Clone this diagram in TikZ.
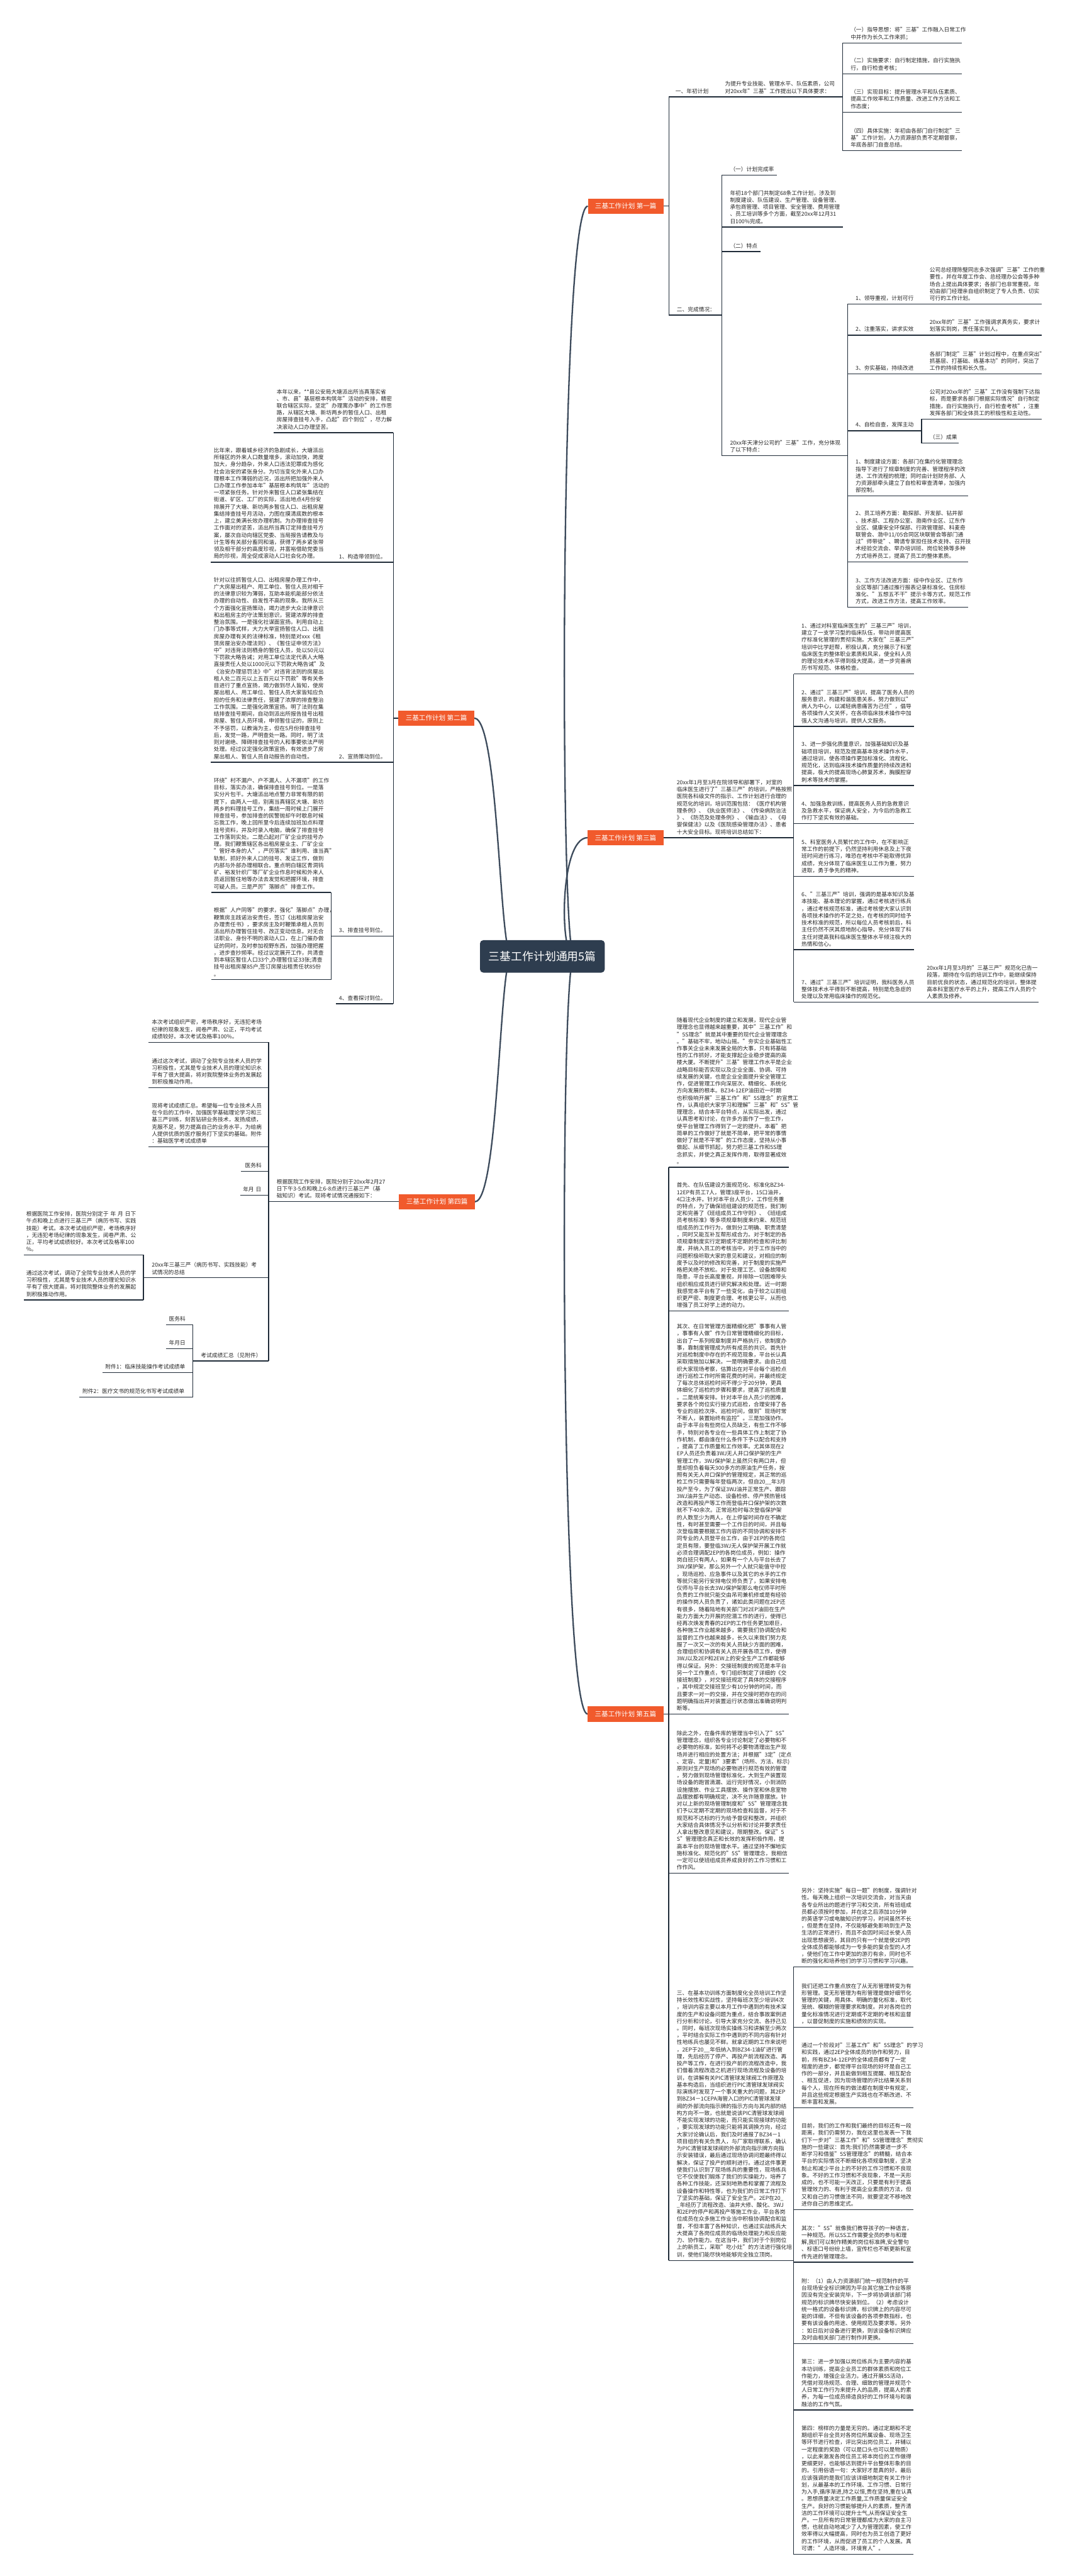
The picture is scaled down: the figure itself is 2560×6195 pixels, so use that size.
\documentclass[tikz,border=0pt]{standalone}
\usepackage{fontspec}
\setmainfont{Noto Sans CJK SC}
\usepackage{tikz}
\usetikzlibrary{backgrounds}
\definecolor{rootnavy}{HTML}{2E3D4F}
\definecolor{branchred}{HTML}{F15A2C}
\definecolor{linedark}{HTML}{1F2B38}
\definecolor{trunkgray}{HTML}{3D4B5C}
\definecolor{textdark}{HTML}{262626}
\hyphenpenalty=10000
\exhyphenpenalty=10000

\begin{document}
\begin{tikzpicture}[x=1pt, y=-1pt,
  topic/.style={fill=rootnavy, text=white, rounded corners=8pt, minimum width=300pt, minimum height=78pt, inner sep=0pt, font=\fontsize{27}{30}\selectfont},
  branch/.style={fill=branchred, text=white, minimum width=182pt, minimum height=37pt, inner sep=0pt, font=\fontsize{16}{19}\selectfont},
  leaf/.style={anchor=south west, align=left, text width=300pt, inner xsep=0pt, inner ysep=7.5pt, text=textdark, font=\fontsize{13.2}{17}\selectfont},
  link/.style={draw=linedark, line width=2pt},
  trunk/.style={draw=trunkgray, line width=3.5pt},
]
\useasboundingbox (0,0) rectangle (2560,6195);

% Root and the five articles
\node[topic] (topic) at (1304,2300) {三基工作计划通用5篇};
\node[branch] (art1) at (1504.5,495.7) {三基工作计划 第一篇};
\node[branch] (art2) at (1049,1727) {三基工作计划 第二篇};
\node[branch] (art3) at (1504,2014.5) {三基工作计划 第三篇};
\node[branch] (art4) at (1050.5,2890) {三基工作计划 第四篇};
\node[branch] (art5) at (1504,4122) {三基工作计划 第五篇};

\begin{scope}[on background layer]
\fill[white] (0,0) rectangle (2560,6195);
\coordinate (rR) at ([xshift=41pt]topic.center);
\coordinate (rL) at ([xshift=-104pt]topic.center);
\draw[trunk] ([xshift=76pt]topic.center) .. controls (rR) and (rR |- art1.west) .. (art1.west);
\draw[trunk] ([xshift=76pt]topic.center) .. controls (rR) and (rR |- art3.west) .. (art3.west);
\draw[trunk] ([xshift=76pt]topic.center) .. controls (rR) and (rR |- art5.west) .. (art5.west);
\draw[trunk] ([xshift=-74pt]topic.center) .. controls (rL) and (rL |- art2.east) .. (art2.east);
\draw[trunk] ([xshift=-74pt]topic.center) .. controls (rL) and (rL |- art4.east) .. (art4.east);
\end{scope}

% First article
\node[leaf] (a1plan) at (1624,232.8) {一、年初计划};
\draw[link] ([xshift=-16pt]a1plan.south west) -- ++(116,0);
\node[leaf] (a1req) at (1743,232.8) {为提升专业技能、管理水平、队伍素质，公司\\
对20xx年"三基"工作提出以下具体要求：};
\draw[link] ([xshift=-19pt]a1req.south west) -- ++(301.6,0);
\node[leaf] (a1g1) at (2045,103.6) {（一）指导思想：将"三基"工作融入日常工作\\
中并作为长久工作来抓；};
\node[leaf] (a1g2) at (2045,178) {（二）实施要求：自行制定措施，自行实施执\\
行，自行检查考核；};
\node[leaf] (a1g3) at (2045,270) {（三）实现目标：提升管理水平和队伍素质、\\
提高工作效率和工作质量、改进工作方法和工\\
作态度；};
\node[leaf] (a1g4) at (2045,362.5) {（四）具体实施：年初由各部门自行制定"三\\
基"工作计划，人力资源部负责不定期督察，\\
年底各部门自查总结。};
\draw[link] ([xshift=-19.4pt]a1g1.south west) -- ++(287,0);
\draw[link] ([xshift=-19.4pt]a1g2.south west) -- ++(287,0);
\draw[link] ([xshift=-19.4pt]a1g3.south west) -- ++(287,0);
\draw[link] ([xshift=-19.4pt]a1g4.south west) -- ++(287,0);
\draw[link] ([xshift=-19.4pt]a1g1.south west) -- ([xshift=-19.4pt]a1g4.south west);

\node[leaf] (a1done) at (1627,757.6) {二、完成情况：};
\draw[link] ([xshift=-19pt]a1done.south west) -- ++(128,0);
\draw[link] ([xshift=-16pt]a1plan.south west) -- ([xshift=-19pt]a1done.south west);
\draw[link] (art1.east) -- ++(12.5,0);

\node[leaf] (a1rate) at (1755,420.7) {（一）计划完成率};
\draw[link] ([xshift=-19pt]a1rate.south west) -- ++(132,0);
\node[leaf] (a1ratet) at (1755,546) {年初18个部门共制定68条工作计划，涉及到\\
制度建设、队伍建设、生产管理、设备管理、\\
承包商管理、项目管理、安全管理、费用管理\\
、员工培训等多个方面，截至20xx年12月31\\
日100\%完成。};
\draw[link] ([xshift=-19pt]a1ratet.south west) -- ++(291,0);
\node[leaf] (a1feat) at (1755,605) {（二）特点};
\draw[link] ([xshift=-19pt]a1feat.south west) -- ++(93,0);
\node[leaf] (a1tj) at (1755,1096) {20xx年天津分公司的"三基"工作，充分体现\\
了以下特点：};
\draw[link] ([xshift=-19pt]a1tj.south west) -- ++(301.5,0);
\draw[link] ([xshift=-19pt]a1rate.south west) -- ([xshift=-19pt]a1tj.south west);

\node[leaf] (a1f1) at (2057,731) {1、领导重视，计划可行};
\draw[link] ([xshift=-19.5pt]a1f1.south west) -- ++(178.5,0);
\node[leaf] (a1f1t) at (2235,731) {公司总经理陈璧同志多次强调"三基"工作的重\\
要性，并在年度工作会、总经理办公会等多种\\
场合上提出具体要求；各部门也非常重视，年\\
初由部门经理亲自组织制定了专人负责、切实\\
可行的工作计划。};
\draw[link] ([xshift=-19pt]a1f1t.south west) -- ++(288,0);
\node[leaf] (a1f2) at (2057,806) {2、注重落实，讲求实效};
\draw[link] ([xshift=-19.5pt]a1f2.south west) -- ++(178.5,0);
\node[leaf] (a1f2t) at (2235,806) {20xx年的"三基"工作强调求真务实，要求计\\
划落实到岗，责任落实到人。};
\draw[link] ([xshift=-19pt]a1f2t.south west) -- ++(288,0);
\node[leaf] (a1f3) at (2057,899) {3、夯实基础，持续改进};
\draw[link] ([xshift=-19.5pt]a1f3.south west) -- ++(178.5,0);
\node[leaf] (a1f3t) at (2235,899) {各部门制定"三基"计划过程中，在重点突出"\\
抓基层、打基础、练基本功"的同时，突出了\\
工作的持续性和长久性。};
\draw[link] ([xshift=-19pt]a1f3t.south west) -- ++(288,0);
\node[leaf] (a1f4) at (2057,1036) {4、自检自查，发挥主动};
\draw[link] ([xshift=-19.5pt]a1f4.south west) -- ++(178.1,0);
\node[leaf] (a1f4t) at (2235,1007.6) {公司对20xx年的"三基"工作没有强制下达指\\
标，而是要求各部门根据实际情况"自行制定\\
措施，自行实施执行，自行检查考核"，注重\\
发挥各部门和全体员工的积极性和主动性。};
\draw[link] ([xshift=-19.4pt]a1f4t.south west) -- ++(288.4,0);
\node[leaf] (a1res) at (2235,1066) {（三）成果};
\draw[link] ([xshift=-19.4pt]a1res.south west) -- ++(89.4,0);
\draw[link] ([xshift=-19.4pt]a1f4t.south west) -- ([xshift=-19.4pt]a1res.south west);
\node[leaf] (a1r1) at (2057,1192.7) {1、制度建设方面：各部门在集约化管理理念\\
指导下进行了规章制度的完善、管理程序的改\\
进、工作流程的梳理；同时由计划财务部、人\\
力资源部牵头建立了自检和审查清单，加强内\\
部控制。};
\node[leaf] (a1r2) at (2057,1351) {2、员工培养方面：勘探部、开发部、钻井部\\
、技术部、工程办公室、渤南作业区、辽东作\\
业区、健康安全环保部、行政管理部、科麦奇\\
联管会、渤中11/05合同区块联管会等部门通\\
过"师带徒"、聘请专家担任技术支持、召开技\\
术经验交流会、举办培训班、岗位轮换等多种\\
方式培养员工，提高了员工的整体素质。};
\node[leaf] (a1r3) at (2057,1460.7) {3、工作方法改进方面：绥中作业区、辽东作\\
业区等部门通过推行报表记录标准化、住房标\\
准化、"五想五不干"提示卡等方式，规范工作\\
方式，改进工作方法，提高工作效率。};
\draw[link] ([xshift=-19.5pt]a1r1.south west) -- ++(289.5,0);
\draw[link] ([xshift=-19.5pt]a1r2.south west) -- ++(289.5,0);
\draw[link] ([xshift=-19.5pt]a1r3.south west) -- ++(289.5,0);
\draw[link] ([xshift=-19.5pt]a1f1.south west) -- ([xshift=-19.5pt]a1r3.south west);

% Second article
\node[leaf] (a2top) at (665,1040.6) {本年以来，**县公安局大塘派出所当真落实省\\
、市、县"基层根本构筑年"活动的安排，精密\\
联合辖区实际，坚定"办理寓办事中"的工作思\\
路，从辖区大塘、新坊两乡的暂住人口、出租\\
房屋排查挂号入手，凸起"四个到位"，尽力解\\
决滚动人口办理坚苦。};
\draw[link] ([xshift=-7pt]a2top.south west) -- ++(288,0);
\node[leaf] (a2l1) at (815,1352) {1、构造带领到位。};
\draw[link] ([xshift=-7pt]a2l1.south west) -- ++(138,0);
\node[leaf] (a2l1t) at (514,1352) {比年来，跟着城乡经济的急剧成长，大塘派出\\
所辖区的外来人口数量增多，滚动加快，跨度\\
加大，身分趋杂，外来人口违法犯罪成为感化\\
社会治安的紧张身分。为切当变化外来人口办\\
理根本工作薄弱的近况，派出所把加强外来人\\
口办理工作参加本年"基层根本构筑年"活动的\\
一项紧张任务。针对外来暂住人口紧张集结在\\
街道、矿区、工厂的实际，派出地点4月份安\\
排展开了大塘、新坊两乡暂住人口、出租房屋\\
集结排查挂号月活动，力图在摸清底数的根本\\
上，建立美满长效办理机制。为办理排查挂号\\
工作面对的坚苦，派出所当真订定排查挂号方\\
案，屡次自动向辖区党委、当局报告请教及与\\
计生等有关部分畜同和谐，获得了两乡紧张带\\
领及相干部分的高度珍视，并富裕借助党委当\\
局的珍视，周全促成滚动人口社会化办理。};
\draw[link] ([xshift=-7pt]a2l1t.south west) -- ++(301,0);
\node[leaf] (a2l2) at (815,1833) {2、宣扬策动到位。};
\draw[link] ([xshift=-7pt]a2l2.south west) -- ++(138,0);
\node[leaf] (a2l2t) at (514,1833) {针对以往抓暂住人口、出租房屋办理工作中，\\
广大房屋出租户、用工单位、暂住人员对相干\\
的法律意识较为薄弱，互助本能机能部分依法\\
办理的自动性、自发性不高的现象。我所从三\\
个方面强化宣扬策动，竭力进步大众法律意识\\
和出租房主的守法策划意识，营建浓厚的排查\\
整治氛围。一是强化社谋面宣扬。利用自动上\\
门办事等式样，大力大举宣扬暂住人口、出租\\
房屋办理有关的法律标准，特别是对xxx《租\\
赁房屋治安办理法则》、《暂住证申领方法》\\
中"对违背法则栖身的暂住人员，处以50元以\\
下罚款大略告诫；对用工单位法定代表人大略\\
直接责任人处以1000元以下罚款大略告诫"及\\
《治安办理惩罚法》中"对违背法则的房屋出\\
租人处二百元以上五百元以下罚款"等有关条\\
目进行了重点宣扬，竭力做到尽人皆知，使房\\
屋出租人、用工单位、暂住人员大家皆知应负\\
担的任务和法律责任，营建了浓厚的排查整治\\
工作氛围。二是强化政策宣扬。明了法则在集\\
结排查挂号期间，自动到派出所报告挂号出租\\
房屋、暂住人员环境，申领暂住证的，原则上\\
不予惩罚，以教诲为主，但在5月份排查挂号\\
后，发觉一路，严明查处一路。同时，明了法\\
则对谢绝、障碍排查挂号的人和事要依法严明\\
处理。经过议定强化政策宣扬，有效进步了房\\
屋出租人、暂住人员自动报告的自动性。};
\draw[link] ([xshift=-7pt]a2l2t.south west) -- ++(301,0);
\node[leaf] (a2l3) at (815,2251) {3、排查挂号到位。};
\draw[link] ([xshift=-19pt]a2l3.south west) -- ++(150,0);
\node[leaf] (a2l3a) at (514,2146) {环绕"村不漏户、户不漏人、人不漏项"的工作\\
目标，落实办法，确保排查挂号到位。一是落\\
实分片包干。大塘派出地点警力非常有限的前\\
提下，由两人一组，别离当真辖区大塘、新坊\\
两乡的料理挂号工作，集结一周时候上门展开\\
排查挂号，参加排查的民警抛却午时歇息时候\\
忘我工作，晚上回所里今后连续加班加点料理\\
挂号资料，并及时录入电脑，确保了排查挂号\\
工作落到实处。二是凸起对厂矿企业的挂号办\\
理。我们鞭策辖区各出租房屋业主、厂矿企业\\
"管好本身的人"，严厉落实"谁利用、谁当真"\\
轨制，抓好外来人口的挂号、发证工作，做到\\
内部与外部办理相联合。重点明白辖区青洞钨\\
矿、裕发针织厂等厂矿企业作息时候和外来人\\
员返回暂住地等办法去发觉和把握环境，排查\\
可疑人员。三是严厉"落脚点"排查工作。};
\draw[link] ([xshift=-6.5pt]a2l3a.south west) -- ++(288.5,0);
\node[leaf] (a2l3b) at (514,2356) {根据"人户同等"的要求，强化"落脚点"办理，\\
鞭策房主践诺治安责任，签订《出租房屋治安\\
办理责任书》，要求房主及时鞭策承租人员到\\
派出所办理暂住挂号、改正变动信息。对无合\\
法职业、身份不明的滚动人口，在上门催办做\\
证的同时，及时参加视野东西，加强办理把握\\
，进步查抄频率。经过议定展开工作，共清查\\
到本辖区暂住人口33个,办理暂住证33张;清查\\
挂号出租房屋85户,签订房屋出租责任状85份\\
。};
\draw[link] ([xshift=-6.5pt]a2l3b.south west) -- ++(288.5,0);
\draw[link] ([xshift=282pt]a2l3a.south west) -- ([xshift=282pt]a2l3b.south west);
\node[leaf] (a2l4) at (815,2414) {4、查看探讨到位。};
\draw[link] ([xshift=-7pt]a2l4.south west) -- ++(138,0);
\draw[link] ([xshift=281pt]a2top.south west) -- ([xshift=131pt]a2l4.south west);
\draw[link] (art2.west) -- ++(-12,0);

% Third article
\node[leaf] (a3top) at (1627,2014.5) {20xx年1月至3月在院领导和部署下，对室的\\
临床医生进行了"三基三严"的培训，严格按照\\
医院各科级文件的指示、工作计划进行合理的\\
规范化的培训，培训范围包括：《医疗机构管\\
理条例》、《执业医师法》、《传染病防治法\\
》、《防范及处理条例》、《输血法》、《母\\
婴保健法》以及《医院感染管理办法》、患者\\
十大安全目标。现将培训总结如下：};
\draw[link] ([xshift=-32pt]a3top.south west) -- ++(313,0);
\node[leaf] (a3i1) at (1927,1620.7) {1、通过对科室临床医生的"三基三严"培训，\\
建立了一支学习型的临床队伍，带动并提高医\\
疗标准化管理的贯彻实施。大家在"三基三严"\\
培训中比学赶帮，积极认真，充分展示了科室\\
临床医生的整体职业素质和风采，使全科人员\\
的理论技术水平得到极大提高，进一步完善病\\
历书写规范、体格检查。};
\node[leaf] (a3i2) at (1927,1747) {2、通过"三基三严"培训，提高了医务人员的\\
服务意识，构建和谐医患关系，努力做到以"\\
病人为中心，以减轻病患痛苦为己任"，倡导\\
各项操作人文关怀，在各项临床技术操作中加\\
强人文沟通与培训，提供人文服务。};
\node[leaf] (a3i3) at (1927,1889) {3、进一步强化质量意识，加强基础知识及基\\
础项目培训，规范及提高基本技术操作水平，\\
通过培训，使各项操作更加标准化、流程化、\\
规范化，达到临床技术操作质量的持续改进和\\
提高，极大的提高现场心肺复苏术，胸膜腔穿\\
刺术等技术的掌握。};
\node[leaf] (a3i4) at (1927,1981) {4、加强急救训练，提高医务人员的急救意识\\
及急救水平，保证病人安全，为今后的急救工\\
作打下坚实有效的基础。};
\node[leaf] (a3i5) at (1927,2107.4) {5、科室医务人员繁忙的工作中，在不影响正\\
常工作的前提下，仍然坚持利用休息及上下夜\\
班时间进行练习，唯恐在考核中不能取得优异\\
成绩，充分体现了临床医生以工作为重，努力\\
进取，勇于争先的精神。};
\node[leaf] (a3i6) at (1927,2284) {6、"三基三严"培训，强调的是基本知识及基\\
本技能、基本理论的掌握，通过考核进行练兵\\
，通过考核规范标准，通过考核使大家认识到\\
各项技术操作的不足之处，在考核的同时给予\\
技术标准的规范，所以每位人员考核前后，科\\
主任仍然不厌其烦地耐心指导。充分体现了科\\
主任对提高我科临床医生整体水平倾注极大的\\
热情和信心。};
\node[leaf] (a3i7) at (1927,2410) {7、通过"三基三严"培训证明，我科医务人员\\
整体技术水平得到不断提高，特别是危急症的\\
处理以及常用临床操作的规范化。};
\node[leaf] (a3i7t) at (2228,2410) {20xx年1月至3月的"三基三严"规范化已告一\\
段落，期待在今后的培训工作中，能继续保持\\
目前优良的状态，通过规范化的培训，整体提\\
高本科室医疗水平的上升，提高工作人员的个\\
人素质及修养。};
\draw[link] ([xshift=-19pt]a3i1.south west) -- ++(289,0);
\draw[link] ([xshift=-19pt]a3i2.south west) -- ++(289,0);
\draw[link] ([xshift=-19pt]a3i3.south west) -- ++(289,0);
\draw[link] ([xshift=-19pt]a3i4.south west) -- ++(289,0);
\draw[link] ([xshift=-19pt]a3i5.south west) -- ++(289,0);
\draw[link] ([xshift=-19pt]a3i6.south west) -- ++(289,0);
\draw[link] ([xshift=-19pt]a3i7.south west) -- ++(302,0);
\draw[link] ([xshift=-18pt]a3i7t.south west) -- ++(287,0);
\draw[link] ([xshift=-19pt]a3i1.south west) -- ([xshift=-19pt]a3i7.south west);

% Fourth article
\node[leaf] (a4top) at (665,2890) {根据医院工作安排，医院分别于20xx年2月27\\
日下午3-5点和晚上6-8点进行三基三严（基\\
础知识）考试。现将考试情况通报如下：};
\draw[link] ([xshift=-19pt]a4top.south west) -- ++(313.5,0);
\node[leaf] (a4s1) at (365,2506.5) {本次考试组织严密，考场秩序好，无违犯考场\\
纪律的现象发生，阅卷严肃、公正，平均考试\\
成绩较好。本次考试及格率100\%。};
\node[leaf] (a4s2) at (365,2616) {通过这次考试，调动了全院专业技术人员的学\\
习积极性，尤其是专业技术人员的理论知识水\\
平有了很大提高，将对我院整体业务的发展起\\
到积极推动作用。};
\node[leaf] (a4s3) at (365,2758) {现将考试成绩汇总。希望每一位专业技术人员\\
在今后的工作中，加强医学基础理论学习和三\\
基三严训练，刻苦钻研业务技术，发扬成绩，\\
克服不足，努力提高自己的业务水平，为给病\\
人提供优质的医疗服务打下坚实的基础。附件\\
：基础医学考试成绩单};
\draw[link] ([xshift=-7.5pt]a4s1.south west) -- ++(288.5,0);
\draw[link] ([xshift=-7.5pt]a4s2.south west) -- ++(288.5,0);
\draw[link] ([xshift=-7.5pt]a4s3.south west) -- ++(288.5,0);
\node[leaf] (a4dept) at (589,2817) {医务科};
\draw[link] ([xshift=-9pt]a4dept.south west) -- ++(66,0);
\node[leaf] (a4date) at (584,2874.5) {年月~日};
\draw[link] ([xshift=-7pt]a4date.south west) -- ++(69,0);
\node[leaf] (a4sum) at (365,3073) {20xx年三基三严（病历书写、实践技能）考\\
试情况的总结};
\draw[link] ([xshift=-20pt]a4sum.south west) -- ++(301,0);
\node[leaf] (a4sum1) at (63,3018) {根据医院工作安排，医院分别定于~年~月~日下\\
午点和晚上点进行三基三严（病历书写、实践\\
技能）考试。本次考试组织严密，考场秩序好\\
，无违犯考场纪律的现象发生，阅卷严肃、公\\
正，平均考试成绩较好。本次考试及格率100\\
\%。};
\node[leaf] (a4sum2) at (63,3126) {通过这次考试，调动了全院专业技术人员的学\\
习积极性，尤其是专业技术人员的理论知识水\\
平有了很大提高，将对我院整体业务的发展起\\
到积极推动作用。};
\draw[link] ([xshift=-6pt]a4sum1.south west) -- ++(288,0);
\draw[link] ([xshift=-6pt]a4sum2.south west) -- ++(288,0);
\draw[link] ([xshift=282pt]a4sum1.south west) -- ([xshift=282pt]a4sum2.south west);
\node[leaf] (a4tab) at (483,3273) {考试成绩汇总（见附件）};
\draw[link] ([xshift=-19pt]a4tab.south west) -- ++(182,0);
\node[leaf] (a4dept2) at (406,3185.6) {医务科};
\node[leaf] (a4date2) at (406,3243) {年月日};
\node[leaf] (a4att1) at (253,3301) {附件1：临床技能操作考试成绩单};
\node[leaf] (a4att2) at (198,3360) {附件2：医疗文书的规范化书写考试成绩单};
\draw[link] ([xshift=-7.3pt]a4dept2.south west) -- ++(65.3,0);
\draw[link] ([xshift=-7.3pt]a4date2.south west) -- ++(65.3,0);
\draw[link] ([xshift=-7pt]a4att1.south west) -- ++(218,0);
\draw[link] ([xshift=-7pt]a4att2.south west) -- ++(273,0);
\draw[link] ([xshift=58pt]a4dept2.south west) -- ([xshift=266pt]a4att2.south west);
\draw[link] ([xshift=281pt]a4s1.south west) -- ([xshift=163pt]a4tab.south west);

% Fifth article
\node[leaf] (a5p0) at (1627,2807) {随着现代企业制度的建立和发展，现代企业管\\
理理念也显得越来越重要，其中"三基工作"和\\
"5S理念"就是其中重要的现代企业管理理念\\
。"基础不牢，地动山摇。"夯实企业基础性工\\
作事关企业未来发展全局的大事，只有将基础\\
性的工作抓好，才能支撑起企业稳步提高的高\\
楼大厦。不断提升"三基"管理工作水平是企业\\
战略目标能否实现以及企业全面、协调、可持\\
续发展的关键，也是企业全面提升安全管理工\\
作，促进管理工作向深层次、精细化、系统化\\
方向发展的根本。BZ34-12EP油田近一时期\\
也积极响开展"三基工作"和"5S理念"的宣贯工\\
作，认真组织大家学习和理解"三基"和"5S"管\\
理理念，结合本平台特点，从实际出发，通过\\
认真思考和讨论，在许多方面作了一些工作，\\
使平台管理工作得到了一定的提升。本着"把\\
简单的工作做好了就是不简单，把平常的事情\\
做好了就是不平常"的工作态度，坚持从小事\\
做起、从细节抓起，努力把三基工作和5S理\\
念抓实，并使之真正发挥作用，取得显著成效\\
。};
\node[leaf] (a5p1) at (1627,3153) {首先、在队伍建设方面规范化、标准化BZ34-\\
12EP有员工7人，管理3座平台，15口油井，\\
4口注水井。针对本平台人员少，工作任务重\\
的特点，为了确保班组建设的规范性，我们制\\
定和完善了《班组成员工作守则》、《班组成\\
员考核标准》等多项规章制度来约束、规范班\\
组成员的工作行为，做到分工明确、职责清楚\\
，同时又能互补互帮形成合力。对于制定的各\\
项规章制度实行定期或不定期的检查和评比制\\
度，并纳入员工的考核当中，对于工作当中的\\
问题积极听取大家的意见和建议，对相应的制\\
度予以及时的修改和完善，对于制度的实施严\\
格把关绝不放松。对于处理工艺、设备故障和\\
隐患，平台长高度重视，并排除一切困难带头\\
组织相应成员进行研究解决和处理。近一时期\\
我感觉本平台有了一些变化，由于较之以前组\\
织更严密、制度更合理、考核更公平，从而也\\
增强了员工好学上进的动力。};
\node[leaf] (a5p2) at (1627,4122) {其次、在日常管理方面精细化把"事事有人管\\
，事事有人做"作为日常管理精细化的目标，\\
出台了一系列规章制度并严格执行，依制度办\\
事，靠制度管理成为所有成员的共识。首先针\\
对巡检制度中存在的不规范现象，平台长认真\\
采取措施加以解决。一是明确要求。由自己组\\
织大家现场考察，估算出在对平台每个巡检点\\
进行巡检工作时所需花费的时间，并最终规定\\
了每次总体巡检时间不得少于20分钟，更具\\
体细化了巡检的步骤和要求，提高了巡检质量\\
。二是统筹安排。针对本平台人员少的困难，\\
要求各个岗位实行接力式巡检，合理安排了各\\
专业的巡检次序、巡检时间，做到"现场时常\\
不断人，装置始终有监控"。三是加强协作。\\
由于本平台有些岗位人员缺乏，有些工作不够\\
手，特别对各专业在一些具体工作上制定了协\\
作机制，都由谁在什么条件下予以配合和支持\\
，提高了工作质量和工作效率。尤其体现在2\\
EP人员还负责着3WJ无人井口保护架的生产\\
管理工作，3WJ保护架上虽然只有两口井，但\\
是却担负着每天300多方的原油生产任务，按\\
照有关无人井口保护的管理规定，其正常的巡\\
检工作只需要每年登临两次，但自20\_\_年3月\\
投产至今，为了保证3WJ油井正常生产、跟踪\\
3WJ油井生产动态、设备检修、停产预热管线\\
改造和再投产等工作而登临井口保护架的次数\\
就不下40余次。正常巡检时每次登临保护架\\
的人数至少为两人，在上停留时间存在不确定\\
性，有时甚至需要一个工作日的时间，并且每\\
次登临需要根据工作内容的不同协调和安排不\\
同专业的人员登平台工作，由于2EP的各岗位\\
定员有限，要登临3WJ无人保护架开展工作就\\
必须合理调配2EP的各岗位成员，例如：操作\\
岗白班只有两人，如果有一个人与平台长去了\\
3WJ保护架，那么另外一个人就只能值守中控\\
，现场巡检、应急事件以及其它的水手的工作\\
等就只能另行安排电仪师负责了，如果安排电\\
仪师与平台长去3WJ保护架那么电仪师平时所\\
负责的工作就只能交由吊司兼机修或是有经验\\
的操作岗人员负责了，诸如此类问题在2EP还\\
有很多，随着陆地有关部门对2EP油田在生产\\
能力方面大力开展的挖潜工作的进行，使得已\\
经再次焕发青春的2EP的工作任务更加艰巨，\\
各种施工作业越来越多，需要我们协调配合和\\
监督的工作也越来越多，长久以来我们努力克\\
服了一次又一次的有关人员缺少方面的困难，\\
合理组织和协调有关人员开展各项工作，使得\\
3WJ以及2EP和2EW上的安全生产工作都能够\\
得以保证。另外：交接班制度的规范是本平台\\
另一个工作重点，专门组织制定了详细的《交\\
接班制度》，对交接班规定了具体的交接程序\\
，其中规定交接班至少有10分钟的时间，而\\
且要求一对一的交接，并在交接时把存在的问\\
题明确指出并对装置运行状态做出准确说明判\\
断等。};
\node[leaf] (a5p3) at (1627,4505) {除此之外，在备件库的管理当中引入了"5S"\\
管理理念，组织各专业讨论制定了必要物和不\\
必要物的标准，如何将不必要物清理出生产现\\
场并进行相应的处置方法；并根据"3定"(定点\\
、定容、定量)和"3要素"(场所、方法、标示)\\
原则对生产现场的必要物进行规范有效的管理\\
，努力做到现场管理标准化，大到生产装置现\\
场设备的跑冒滴漏、运行完好情况，小到消防\\
设施摆放、作业工具摆放、操作室和休息室物\\
品摆放都有明确规定，决不允许随意摆放。针\\
对以上新的现场管理制度和"5S"管理理念我\\
们予以定期不定期的现场检查和监督，对于不\\
规范和不达标的行为给予督促和整改，并组织\\
大家结合具体情况予以分析和讨论并要求责任\\
人拿出整改意见和建议，限期整改。保证"5\\
S"管理理念真正和长效的发挥积极作用，提\\
高本平台的现场管理水平。通过坚持不懈地实\\
施标准化、规范化的"5S"管理理念，我相信\\
一定可以使班组成员养成良好的工作习惯和工\\
作作风。};
\node[leaf] (a5p4) at (1627,5436) {三、在基本功训练方面制度化全员培训工作坚\\
持长效性和实战性，坚持每班次至少培训4次\\
，培训内容主要以本月工作中遇到的有技术深\\
度的生产和设备问题为重点，结合事故案例进\\
行分析和讨论，引导大家充分交流、各抒己见\\
。同时，每班次现场实操练习和讲解至少两次\\
，平时结合实际工作中遇到的不同内容有针对\\
性地练兵也屡见不鲜。就拿近期的工作来说吧\\
，2EP于20\_\_年低纳入到BZ34-1油矿进行管\\
理，先后经历了停产、再投产前流程改造、再\\
投产等工作，在进行投产前的流程改造中，我\\
们借着流程改造之机进行现场流程及设备的培\\
训，在讲解有关PIC清管球发球阀工作原理及\\
基本构造后，当组织进行PIC清管球发球阀实\\
际演练时发现了一个事关重大的问题，其2EP\\
到BZ34－1CEPA海管入口的PIC清管球发球\\
阀的外部流向指示牌的指示方向与其内部的结\\
构方向不一致，也就是说该PIC清管球发球阀\\
不能实现发球的功能，而只能实现接球的功能\\
，要实现发球的功能只能将其调换方向，经过\\
大家讨论确认后，我们及时通报了BZ34－1\\
项目组的有关负责人，与厂家取得联系，确认\\
为PIC清管球发球阀的外部流向指示牌方向指\\
示安装错误，最后通过现场协调问题最终得以\\
解决，保证了投产的顺利进行。通过这件事更\\
使我们认识到了现场练兵的重要性，现场练兵\\
它不仅使我们锻炼了我们的实操能力，培养了\\
各种工作技能，还深刻地熟悉和掌握了流程及\\
设备操作和特性等，也为我们的日常工作打下\\
了坚实的基础，保证了安全生产。2EP在20\_\\
\_年经历了流程改造、油井大修、酸化、3WJ\\
和2EP的停产和再投产等施工作业，平台各岗\\
位成员在众多施工作业当中积极协调配合和监\\
督，不但丰富了各种知识，也通过实战练兵大\\
大提高了各岗位成员的临场处理能力和反应能\\
力、协作能力。在这当中，我们对于个别岗位\\
上的新员工，采取"吃小灶"的方法进行强化培\\
训，使他们能尽快地能够完全独立顶岗。};
\draw[link] ([xshift=-19.3pt]a5p0.south west) -- ++(288.3,0);
\draw[link] ([xshift=-19.3pt]a5p1.south west) -- ++(288.3,0);
\draw[link] ([xshift=-19.3pt]a5p2.south west) -- ++(288.3,0);
\draw[link] ([xshift=-19.3pt]a5p3.south west) -- ++(288.3,0);
\draw[link] ([xshift=-19.3pt]a5p4.south west) -- ++(300,0);
\draw[link] ([xshift=-19.3pt]a5p0.south west) -- ([xshift=-19.3pt]a5p4.south west);
\draw[link] (art5.east) -- ++(12.7,0);

\node[leaf] (a5q1) at (1927,4730.6) {另外：坚持实施"每日一题"的制度，强调针对\\
性。每天晚上组织一次培训交流会，对当天由\\
各专业所出的题进行学习和交流，所有班组成\\
员都必须按时参加，并在这之后添加10分钟\\
的英语学习或电脑知识的学习，时间虽然不长\\
，但是贵在坚持，不仅能够避免影响到生产及\\
生活的正常进行，而且不会因时间过长使人员\\
出现思想疲劳。其目的只有一个就是使2EP的\\
全体成员都能够成为一专多能的复合型的人才\\
，使他们在工作中更加的游刃有余，同时也不\\
断的强化和培养他们的学习习惯和学习兴趣。};
\node[leaf] (a5q2) at (1927,4875) {我们还把工作重点放在了从无形管理转变为有\\
形管理。变无形管理为有形管理是做好细节化\\
管理的关键，用具体、明确的量化标准，取代\\
笼统、模糊的管理要求和制度。并对各岗位的\\
量化标准情况进行定期或不定期的考核和监督\\
，以督促制度的实施和绩效的实现。};
\node[leaf] (a5q3) at (1927,5068.7) {通过一个阶段对"三基工作"和"5S理念"的学习\\
和实践，通过2EP全体成员的协作和努力，目\\
前，所有BZ34-12EP的全体成员都有了一定\\
程度的进步，都觉得平台现场的好坏是自己工\\
作的一部分，并且能做到相互提醒、相互配合\\
、相互促进，因为现场管理的评比结果关系到\\
每个人，现在所有的做法都在制度中有规定，\\
并且这些规定根据生产实践也在不断改进、不\\
断丰富和发展。};
\node[leaf] (a5q4) at (1927,5313.5) {目前，我们的工作和我们最终的目标还有一段\\
距离，我们仍需努力，我在这里也发表一下我\\
们下一步对"三基工作"和"5S管理理念"贯彻实\\
施的一些建议：首先:我们仍然需要进一步不\\
断学习和借鉴"5S管理理念"的精髓，结合本\\
平台的实际情况不断细化各项规章制度，坚决\\
制止和减少平台上的不好的工作习惯和不良现\\
象。不好的工作习惯和不良现象，不是一天形\\
成的，也不可能一天改正，只要是有利于提高\\
管理效力的、有利于提高企业素质的方法，但\\
又和自己的习惯做法不同，就要坚定不移地改\\
进你自己的思维定式。};
\node[leaf] (a5q5) at (1927,5440) {其次："5S"就像我们教导孩子的一种语言，\\
一种规范。所以5S工作需要全员的参与和理\\
解,我们可以制作精美的岗位标准牌,安全警句\\
、标语口号纷纷上墙，宣传栏也不断更新和宣\\
传先进的管理理念。};
\node[leaf] (a5q6) at (1927,5635.6) {附：（1）由人力资源部门统一规范制作的平\\
台现场安全标识牌因为平台其它施工作业等原\\
因没有完全安装完毕，下一步将协调该部门将\\
规范的标识牌尽快安装到位。（2）考虑设计\\
统一格式的设备标识牌，标识牌上的内容尽可\\
能的详细，不但有该设备的各项参数指标，也\\
要有该设备的用途、使用规范及要求等。另外\\
：如日后对设备进行更换，则该设备标识牌应\\
及时由相关部门进行制作并更换。};
\node[leaf] (a5q7) at (1927,5795.7) {第三：进一步加强以岗位练兵为主要内容的基\\
本功训练，提高企业员工的群体素质和岗位工\\
作能力，增强企业活力。通过开展5S活动，\\
凭借对现场规范、合理、细致的管理并规范个\\
人日常工作行为来提升人的品质，提高人的素\\
养，为每一位成员缔造良好的工作环境与和谐\\
融洽的工作气氛。};
\node[leaf] (a5q8) at (1927,6142.7) {第四：榜样的力量是无穷的。通过定期和不定\\
期组织平台全员对各岗位所属设备、现场卫生\\
等环节进行检查，评比突出岗位员工，并辅以\\
一定程度的奖励（可以是口头也可以是物质）\\
，以此来激发各岗位员工将本岗位的工作做得\\
更细更好，也能够达到提升平台整体形象的目\\
的。引用俗语一句：大家好才是真的好。最后\\
应该强调的是我们应该详细地制定有关工作计\\
划，从最基本的工作环境、工作习惯、日常行\\
为入手,循序渐进,持之以恒,贵在坚持,重在认真\\
。思想质量决定工作质量,工作质量保证安全\\
生产。良好的习惯能够提升人的素质，整齐清\\
洁的工作环境可以提升士气,从而保证安全生\\
产。一旦所有的日常管理都成为大家的自主习\\
惯，也就自动地减少了人为管理因素，使工作\\
效率得以大幅提高，同时也为员工创造了更好\\
的工作环境，从而促进了员工的个人发展。真\\
可谓："人造环境，环境育人"。};
\draw[link] ([xshift=-19.4pt]a5q1.south west) -- ++(288.9,0);
\draw[link] ([xshift=-19.4pt]a5q2.south west) -- ++(288.9,0);
\draw[link] ([xshift=-19.4pt]a5q3.south west) -- ++(288.9,0);
\draw[link] ([xshift=-19.4pt]a5q4.south west) -- ++(288.9,0);
\draw[link] ([xshift=-19.4pt]a5q5.south west) -- ++(288.9,0);
\draw[link] ([xshift=-19.4pt]a5q6.south west) -- ++(288.9,0);
\draw[link] ([xshift=-19.4pt]a5q7.south west) -- ++(288.9,0);
\draw[link] ([xshift=-19.4pt]a5q8.south west) -- ++(288.9,0);
\draw[link] ([xshift=-19.4pt]a5q1.south west) -- ([xshift=-19.4pt]a5q8.south west);

\end{tikzpicture}
\end{document}
